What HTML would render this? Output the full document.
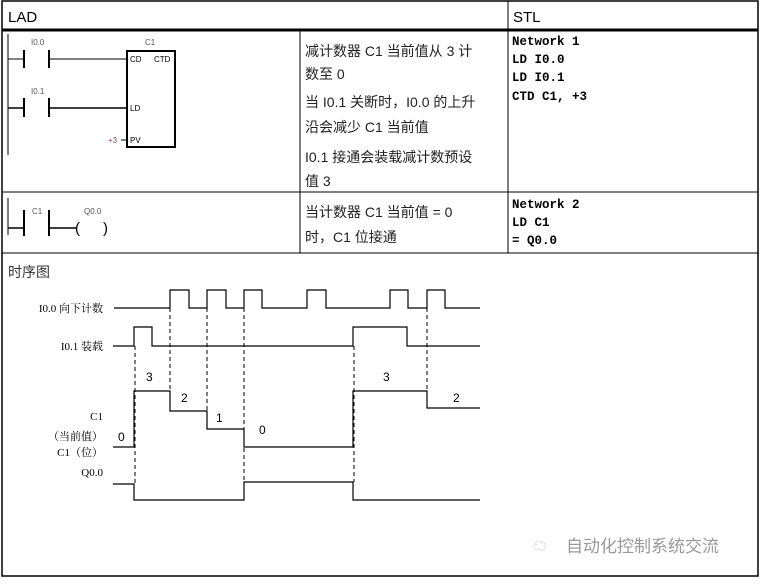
<!DOCTYPE html>
<html><head><meta charset="utf-8"><style>
body{margin:0;background:#fff;width:762px;height:579px;overflow:hidden}
svg text{font-family:"Liberation Sans","Noto Sans CJK SC",sans-serif}
svg .m text{font-family:"Liberation Mono",monospace;font-weight:bold;font-size:12.5px}
svg .s text{font-family:"Liberation Serif","Noto Serif CJK SC",serif;font-size:11px}
</style></head><body>
<svg width="762" height="579" viewBox="0 0 762 579" xmlns="http://www.w3.org/2000/svg">
<g stroke="#000" fill="none">
<rect x="2" y="1" width="756" height="575" stroke-width="1.5"/>
<line x1="2" y1="30" x2="758" y2="30" stroke-width="3"/>
<line x1="2" y1="192" x2="758" y2="192"/>
<line x1="2" y1="253" x2="758" y2="253"/>
<line x1="300" y1="30" x2="300" y2="253"/>
<line x1="508" y1="1" x2="508" y2="253"/>
</g>
<text x="8" y="22" font-size="15">LAD</text>
<text x="513" y="22" font-size="15">STL</text>
<g stroke="#000" fill="none">
<line x1="8" y1="34" x2="8" y2="155"/>
<line x1="8" y1="59" x2="24" y2="59"/><line x1="24" y1="50" x2="24" y2="68" stroke-width="2"/><line x1="49" y1="50" x2="49" y2="68" stroke-width="2"/><line x1="49" y1="59" x2="127" y2="59"/>
<line x1="8" y1="108" x2="24" y2="108" stroke-width="1.5"/><line x1="24" y1="98" x2="24" y2="117" stroke-width="2"/><line x1="49" y1="98" x2="49" y2="117" stroke-width="2"/><line x1="49" y1="108" x2="127" y2="108" stroke-width="1.5"/>
<rect x="127" y="51" width="48" height="96" stroke-width="2"/>
<line x1="121" y1="140" x2="127" y2="140"/>
<line x1="8" y1="198" x2="8" y2="235"/>
<line x1="8" y1="228" x2="24" y2="228" stroke-width="1.5"/><line x1="24" y1="210" x2="24" y2="236" stroke-width="2"/><line x1="49" y1="210" x2="49" y2="236" stroke-width="2"/><line x1="49" y1="228" x2="76" y2="228" stroke-width="1.5"/>
</g>
<g font-size="8">
<text x="31" y="45" fill="#555">I0.0</text><text x="145" y="45" fill="#555">C1</text>
<text x="130" y="62">CD</text><text x="154" y="62">CTD</text>
<text x="31" y="94" fill="#555">I0.1</text>
<text x="130" y="111">LD</text><text x="130" y="143">PV</text>
<text x="108" y="143" fill="#846">+3</text>
<text x="32" y="214" fill="#555">C1</text><text x="84" y="214" fill="#555">Q0.0</text>
</g>
<text x="75" y="233" font-size="15">(</text><text x="103" y="233" font-size="15">)</text>
<g font-size="14" fill="#222">
<text x="305" y="56">减计数器 C1 当前值从 3 计</text>
<text x="305" y="79">数至 0</text>
<text x="305" y="107">当 I0.1 关断时，I0.0 的上升</text>
<text x="305" y="132">沿会减少 C1 当前值</text>
<text x="305" y="162">I0.1 接通会装载减计数预设</text>
<text x="305" y="186">值 3</text>
<text x="305" y="217">当计数器 C1 当前值 = 0</text>
<text x="305" y="242">时，C1 位接通</text>
</g>
<g class="m">
<text x="512" y="45">Network 1</text><text x="512" y="63">LD I0.0</text><text x="512" y="81">LD I0.1</text><text x="512" y="100">CTD C1, +3</text>
<text x="512" y="208">Network 2</text><text x="512" y="226">LD C1</text><text x="512" y="244">= Q0.0</text>
</g>
<text x="8" y="277" font-size="14" fill="#333">时序图</text>
<g stroke="#000" fill="none" stroke-width="1.2">
<polyline points="114,308 170,308 170,290 189,290 189,308 207,308 207,290 226,290 226,308 244,308 244,290 262,290 262,308 307,308 307,290 326,290 326,308 390,308 390,290 408,290 408,308 427,308 427,290 445,290 445,308 480,308"/>
<polyline points="113,346 134,346 134,327 152,327 152,346 353,346 353,327 407,327 407,346 480,346"/>
<polyline points="113,447 134,447 134,391 170,391 170,411 207,411 207,429 244,429 244,447 353,447 353,391 427,391 427,408 480,408"/>
<polyline points="113,484 134,484 134,500 244,500 244,482 353,482 353,500 480,500"/>
</g>
<g stroke="#000" stroke-dasharray="4,3" stroke-width="1">
<line x1="135" y1="346" x2="135" y2="484"/><line x1="170" y1="308" x2="170" y2="391"/><line x1="207" y1="308" x2="207" y2="411"/><line x1="244" y1="308" x2="244" y2="482"/><line x1="354" y1="346" x2="354" y2="482"/><line x1="427" y1="308" x2="427" y2="391"/>
</g>
<g font-size="12">
<text x="146" y="381">3</text><text x="181" y="402">2</text><text x="216" y="422">1</text><text x="259" y="434">0</text><text x="118" y="441">0</text><text x="383" y="381">3</text><text x="453" y="402">2</text>
</g>
<g class="s" text-anchor="end">
<text x="103" y="312">I0.0 向下计数</text><text x="103" y="350">I0.1 装载</text>
<text x="103" y="420">C1</text><text x="103" y="440">（当前值）</text><text x="103" y="456">C1（位）</text><text x="103" y="476">Q0.0</text>
</g>
<text x="533" y="551" font-size="14" fill="#bbb">☁</text>
<text x="566" y="552" font-size="17" fill="#999">自动化控制系统交流</text>
</svg>
</body></html>
